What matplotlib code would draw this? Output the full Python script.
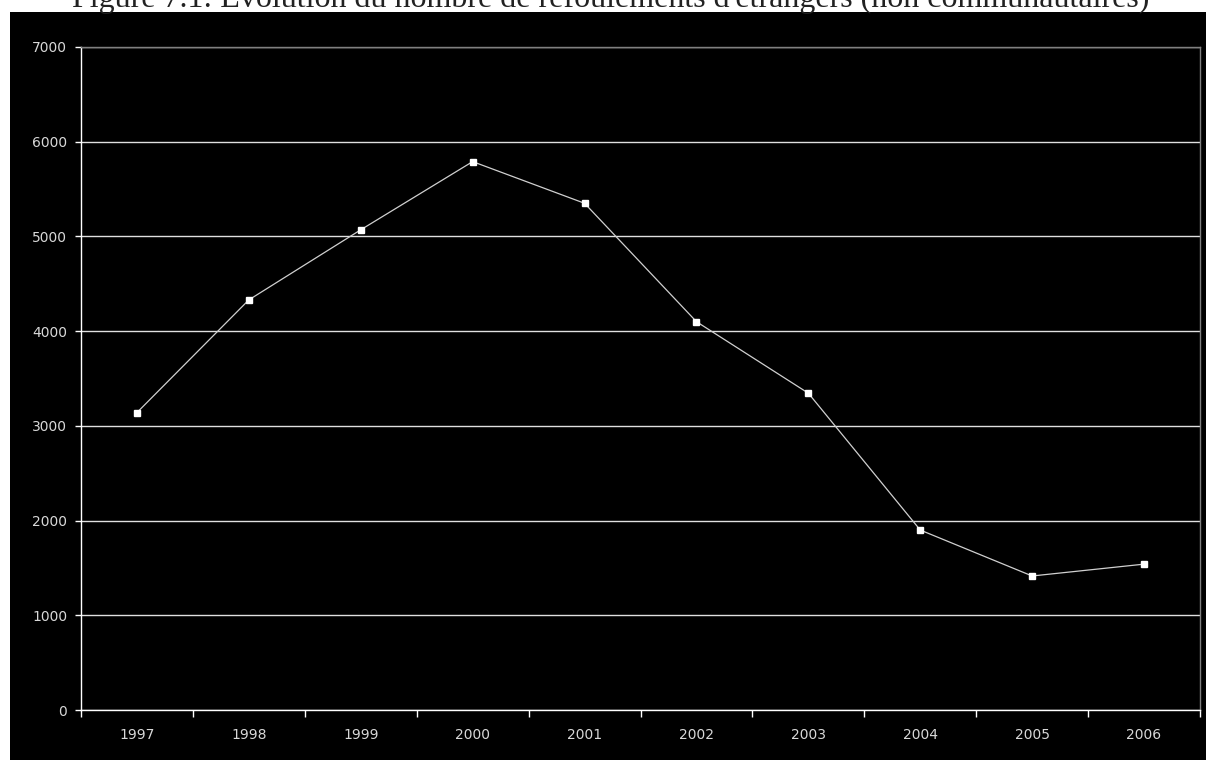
import matplotlib.pyplot as plt
import numpy as np
from matplotlib.patches import Rectangle

years = ['1997', '1998', '1999', '2000', '2001', '2002', '2003', '2004', '2005', '2006']
refoulements = [3140, 4330, 5070, 5790, 5350, 4100, 3345, 1900, 1415, 1540]
y_ticks = [0, 1000, 2000, 3000, 4000, 5000, 6000, 7000]

title = "Figure 7.1: Évolution du nombre de refoulements d'étrangers (non communautaires)"

fig = plt.figure(figsize=(12.06, 7.6), dpi=100, facecolor='white')

# black chart area below the (clipped) title
fig.patches.append(Rectangle((10 / 1206, 0), 1 - 10 / 1206, 1 - 12 / 760,
                             transform=fig.transFigure, facecolor='black',
                             edgecolor='none', zorder=-5))

fig.text(611 / 1206, 1 - 7 / 760, title, ha='center', va='baseline',
         fontsize=23, family='Liberation Serif', color='#222222', zorder=-4)

ax = fig.add_axes([81 / 1206, 50 / 760, (1200 - 81) / 1206, (710 - 47) / 760])
ax.set_facecolor('black')

x = np.arange(len(years))
ax.plot(x, refoulements, color='#d0d0d0', lw=0.9, marker='s', markersize=5,
        markerfacecolor='white', markeredgecolor='white', zorder=3)

ax.set_xlim(-0.5, len(years) - 0.5)
ax.set_ylim(0, 7000)

ax.set_yticks(y_ticks)
ax.set_yticklabels([str(v) for v in y_ticks])
ax.yaxis.grid(True, color='#e0e0e0', lw=1)
ax.set_axisbelow(True)

ax.set_xticks(np.arange(-0.5, len(years), 1))
ax.set_xticklabels([])
ax.set_xticks(x, minor=True)
ax.set_xticklabels(years, minor=True)

ax.tick_params(axis='x', which='major', direction='out', length=5, color='white', width=1)
ax.tick_params(axis='x', which='minor', length=0, pad=13, labelcolor='#d8d8d8', labelsize=10)
ax.tick_params(axis='y', direction='out', length=4, color='white', width=1,
               pad=6, labelcolor='#d8d8d8', labelsize=10)

for side in ['left', 'bottom']:
    ax.spines[side].set_color('white')
    ax.spines[side].set_linewidth(1)
for side in ['top', 'right']:
    ax.spines[side].set_color('#808080')
    ax.spines[side].set_linewidth(1)

fig.savefig('out.png', dpi=100, facecolor='white')
